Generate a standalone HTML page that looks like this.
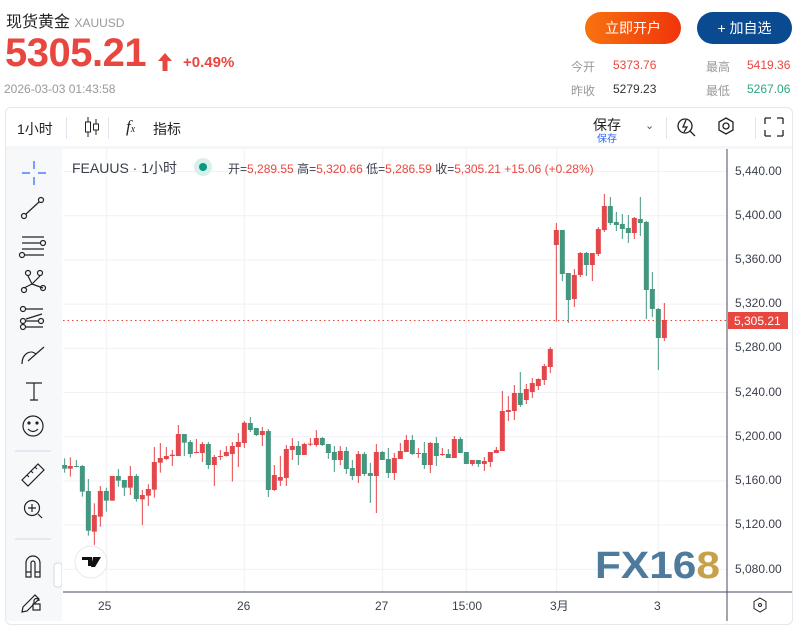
<!DOCTYPE html>
<html><head><meta charset="utf-8">
<style>
body{margin:0;width:800px;height:621px;background:#fff;font-family:"Liberation Sans","Noto Sans CJK SC",sans-serif;position:relative;overflow:hidden}
.a{position:absolute;white-space:nowrap}
</style></head><body>
<div class="a" style="left:6px;top:8px;font-size:16px;color:#222">现货黄金 <span style="font-size:12px;color:#999">XAUUSD</span></div>
<div class="a" style="left:5px;top:31px;font-size:40px;font-weight:bold;color:#e8473f;letter-spacing:-0.5px">5305.21</div>
<svg class="a" style="left:157px;top:53px" width="16" height="18"><path d="M8 0 L15 8 L10.5 8 L10.5 18 L5.5 18 L5.5 8 L1 8Z" fill="#e8473f"/></svg>
<div class="a" style="left:183px;top:54px;font-size:15px;font-weight:bold;color:#e8473f">+0.49%</div>
<div class="a" style="left:4px;top:82px;font-size:12px;color:#999">2026-03-03 01:43:58</div>
<div class="a" style="left:585px;top:12px;width:96px;height:32px;border-radius:16px;background:linear-gradient(90deg,#f7730f,#f0340c);color:#fff;font-size:14px;text-align:center;line-height:32px">立即开户</div>
<div class="a" style="left:697px;top:12px;width:95px;height:32px;border-radius:16px;background:#0a4a91;color:#fff;font-size:14px;text-align:center;line-height:32px">+ 加自选</div>
<div class="a" style="left:571px;top:58px;font-size:12px;color:#999">今开</div>
<div class="a" style="left:613px;top:58px;font-size:12px;color:#e8473f">5373.76</div>
<div class="a" style="left:706px;top:58px;font-size:12px;color:#999">最高</div>
<div class="a" style="left:747px;top:58px;font-size:12px;color:#e8473f">5419.36</div>
<div class="a" style="left:571px;top:82px;font-size:12px;color:#999">昨收</div>
<div class="a" style="left:613px;top:82px;font-size:12px;color:#333">5279.23</div>
<div class="a" style="left:706px;top:82px;font-size:12px;color:#999">最低</div>
<div class="a" style="left:747px;top:82px;font-size:12px;color:#2aa783">5267.06</div>

<div class="a" style="left:5px;top:107px;width:786px;height:516px;border:1px solid #e6e8ee;border-radius:6px"></div>
<div class="a" style="left:6px;top:146px;width:56px;height:475px;background:#f7f8fa"></div>
<div class="a" style="left:6px;top:146px;width:786px;height:3px;background:#f5f6f8"></div>
<div class="a" style="left:17px;top:119px;font-size:14px;color:#222">1小时</div>
<div class="a" style="left:66px;top:117px;width:1px;height:22px;background:#e0e3eb"></div>
<div class="a" style="left:108px;top:117px;width:1px;height:22px;background:#e0e3eb"></div>
<div class="a" style="left:153px;top:119px;font-size:14px;color:#222">指标</div>
<div class="a" style="left:126px;top:117px;font-size:17px;color:#222;font-style:italic;font-family:'Liberation Serif',serif">f<span style="font-size:10px">x</span></div>
<svg class="a" style="left:82px;top:116px" width="20" height="22" fill="none" stroke="#222"><path d="M6 1V21M14 3V19"/><rect x="3.5" y="6" width="5" height="10" fill="#fff"/><rect x="11.5" y="8" width="5" height="6" fill="#fff"/></svg>
<div class="a" style="left:593px;top:115px;font-size:14px;color:#222">保存</div>
<div class="a" style="left:597px;top:130px;font-size:10px;color:#2962ff">保存</div>
<div class="a" style="left:645px;top:119px;font-size:11px;color:#555">⌄</div>
<div class="a" style="left:666px;top:117px;width:1px;height:22px;background:#e0e3eb"></div>
<div class="a" style="left:755px;top:117px;width:1px;height:22px;background:#e0e3eb"></div>
<svg class="a" style="left:676px;top:116px" width="120" height="22" fill="none" stroke="#222" stroke-width="1.3">
<circle cx="9" cy="10" r="7"/><path d="M14 15L19 20M10 4L7 11H11L8 16"/>
<path d="M50 2L57 6V14L50 18L43 14V6Z"/><circle cx="50" cy="10" r="3"/>
<path d="M89 2H95M89 2V8M107 2H101M107 2V8M89 20H95M89 20V14M107 20H101M107 20V14"/></svg>

<svg class="a" style="left:0;top:149px" width="62" height="472" fill="none" stroke="#222" stroke-width="1.2">
<path d="M34 12V20M34 28V36M22 24H30M38 24H46" stroke="#2962ff"/>
<circle cx="24" cy="67" r="2.5"/><circle cx="41" cy="51" r="2.5"/><path d="M26 65L39 53"/>
<path d="M22 88H44M22 94H40M22 100H44M25 106H44"/><circle cx="43" cy="94" r="2.5"/><circle cx="22" cy="106" r="2.5"/>
<circle cx="28" cy="124" r="2.5"/><circle cx="40" cy="124" r="2.5"/><circle cx="24" cy="141" r="2.5"/><circle cx="43" cy="139" r="2.5"/><path d="M28 127L32 135L40 127M32 135L24 139M32 135L43 139"/>
<circle cx="23" cy="160" r="2.5"/><circle cx="23" cy="172" r="2.5"/><circle cx="41" cy="172" r="2.5"/><circle cx="23" cy="178" r="2.5"/><path d="M26 160H43M26 172H38M26 178H43M26 170L42 165" />
<path d="M22 215C22 205 30 200 36 205L28 212M36 205L44 198"/>
<path d="M26 234H42M34 234V251M30 251H38"/>
<circle cx="33" cy="277" r="10"/><circle cx="29" cy="274" r="1" fill="#222"/><circle cx="37" cy="274" r="1" fill="#222"/><path d="M28 280Q33 285 38 280"/>
<path d="M15 302H51" stroke="#dde"/>
<path d="M22 331L38 315L44 321L28 337Z M27 326L29 328M31 322L33 324M35 318L37 320"/>
<circle cx="32" cy="359" r="7.5"/><path d="M32 355V363M28 359H36M38 365L42 369"/>
<path d="M15 390H51" stroke="#dde"/>
<path d="M26 428V414A7 7 0 0 1 40 414V428H35V414A2 2 0 0 0 31 414V428Z M26 423H31M35 423H40"/>
<path d="M23 458L35 446L39 450L27 462L22 463Z"/><rect x="33" y="455" width="7" height="6"/><path d="M34 455V452A2.5 2.5 0 0 1 39 452"/>
<rect x="54" y="414" width="8" height="24" rx="3" fill="#fff" stroke="#dde"/>
</svg>

<svg class="a" style="left:0;top:0" width="800" height="621" id="ch">
<g stroke="#f0f1f4" stroke-width="1">
<path d="M63 171.5H727M63 215.7H727M63 259.9H727M63 304.1H727M63 348.3H727M63 392.5H727M63 436.7H727M63 480.9H727M63 525.1H727M63 569.3H727"/>
<path d="M106.7 149V592M244.3 149V592M382.7 149V592M466.3 149V592M556.7 149V592M658.3 149V592"/>
</g>
<path d="M727 149V621M63 592H792" stroke="#454b5c" stroke-width="1"/>
<g id="cd"></g>
<path d="M63 320.5H727" stroke="#e8473f" stroke-dasharray="1.5 3"/>
<g font-size="12" fill="#3a3f4d" font-family="Liberation Sans">
<text x="735" y="175">5,440.00</text><text x="735" y="219">5,400.00</text><text x="735" y="263">5,360.00</text><text x="735" y="307">5,320.00</text><text x="735" y="351">5,280.00</text><text x="735" y="396">5,240.00</text><text x="735" y="440">5,200.00</text><text x="735" y="484">5,160.00</text><text x="735" y="528">5,120.00</text><text x="735" y="573">5,080.00</text>
<text x="98" y="610">25</text><text x="237" y="610">26</text><text x="375" y="610">27</text><text x="452" y="610">15:00</text><text x="550" y="610" font-family="Liberation Sans,Noto Sans CJK SC">3月</text><text x="654" y="610">3</text>
</g>
<rect x="728" y="312" width="60" height="17" fill="#e8473f"/>
<text x="734" y="325" font-size="12" fill="#fff">5,305.21</text>
<path d="M760 598L766 601.5V608.5L760 612L754 608.5V601.5Z" fill="none" stroke="#222"/><circle cx="760" cy="605" r="1.5" fill="none" stroke="#222"/>
<circle cx="91" cy="562" r="16" fill="#fff" stroke="#e6e8ee"/>
<path d="M82 557H92V566H88V560H82Z M93 557H101L95 567H91Z" fill="#111"/>
<text x="595" y="578" font-size="38" font-weight="bold" fill="#4e7a9c" font-family="Liberation Sans" textLength="125" lengthAdjust="spacingAndGlyphs">FX16<tspan fill="#c9a04a">8</tspan></text>
</svg>
<div class="a" style="left:72px;top:158px;font-size:14px;color:#3a3f4d">FEAUUS · 1小时</div>
<div class="a" style="left:194px;top:158px;width:18px;height:18px;border-radius:9px;background:#d7f0ea"></div>
<div class="a" style="left:199px;top:163px;width:8px;height:8px;border-radius:4px;background:#089981"></div>
<div class="a" style="left:228px;top:160px;font-size:12px;color:#3a3f4d">开=<span style="color:#e8473f">5,289.55</span> 高=<span style="color:#e8473f">5,320.66</span> 低=<span style="color:#e8473f">5,286.59</span> 收=<span style="color:#e8473f">5,305.21 +15.06 (+0.28%)</span></div>
<script>
var R="#e3474c",G="#43977f";
var a=[[14,G,255,266,235,278],[31,R,258,266,232,290],[49,G,258,260,240,262],[67,G,258,335,255,350],[85,G,333,452,297,467],[103,R,405,455,370,495],[121,R,333,410,318,440],[139,G,333,362,323,395],[157,R,288,362,288,362],[175,G,288,302,267,320],[193,G,300,323,300,348],[211,R,288,323,258,345],[229,G,288,357,282,365],[247,R,345,358,330,435],[265,R,327,347,313,378],[283,R,246,329,201,353],[301,R,234,248,189,278],[319,R,228,237,201,240],[337,R,224,228,210,258],[355,R,162,228,135,228],[373,G,162,188,162,228],[391,G,186,222,180,233],[409,R,216,219,177,220],[427,R,192,219,186,246],[445,G,192,255,186,267],[463,R,231,255,225,318],[481,R,228,231,210,240],[499,R,216,228,198,230],[517,R,198,222,186,305],[535,R,186,201,159,261],[553,R,128,189,123,204],[571,G,129,150,111,156],[589,G,144,165,144,168],[607,R,153,165,141,198],[625,G,153,330,147,351],[643,R,285,330,255,333],[661,R,291,302,228,318],[679,R,207,294,195,318],[697,R,198,210,174,240],[715,G,198,225,183,255],[733,R,192,225,188,225],[751,R,191,194,174,198],[769,R,174,195,150,200],[787,G,174,195,171,198],[805,G,192,219,192,237],[823,G,216,240,198,276],[841,R,213,240,198,255],[859,G,213,267,201,282],[877,G,264,288,240,300],[895,R,222,288,213,309],[913,G,222,282,216,288],[931,G,279,288,249,369],[949,R,216,288,192,399],[967,G,216,240,213,240],[985,G,237,279,204,294],[1003,R,234,279,219,300],[1021,R,213,237,189,237],[1039,R,180,216,165,216],[1057,G,180,222,165,225],[1075,R,219,221,204,234],[1093,G,219,255,186,267],[1111,R,189,255,186,279],[1129,G,189,228,171,258],[1147,R,222,225,204,228],[1165,G,222,234,207,234],[1183,R,177,234,168,234],[1201,G,177,219,171,219],[1219,G,216,252,216,252],[1237,R,240,252,240,258],[1255,G,240,252,240,261],[1273,R,243,252,231,273],[1291,R,216,246,216,261],[1309,R,210,219,201,219],[1327,R,93,213,33,213],[1345,R,90,96,48,123],[1363,R,39,93,15,120]];
var b=[[199,R,150,195,129,425],[217,G,150,282,150,303],[235,G,279,360,279,429],[253,R,285,357,267,381],[271,R,219,285,216,291],[289,G,219,255,216,288],[307,R,219,255,219,303],[325,R,147,222,141,228],[343,R,78,150,42,156],[361,G,78,129,51,135],[379,G,126,135,96,153],[397,G,132,147,102,177],[415,G,144,159,105,189],[433,R,114,159,111,177],[451,G,117,129,51,168],[469,G,126,330,123,417],[487,G,327,387,276,411],[505,G,387,474,384,570],[523,R,420,474,369,483]];
var c=[];
a.forEach(function(d){c.push([60+d[0]/3,d[1],380+d[2]/3,380+d[3]/3,380+d[4]/3,380+d[5]/3])});
c.push([520.3,G,393,405,372,407]);c.push([526.3,R,389,400,384,404]);c.push([532.3,R,383,392,378,398]);c.push([538.3,R,379,386,378.3,390]);c.push([544.3,R,366,380,364,385]);c.push([550.3,R,349,367,347,373]);
b.forEach(function(d){c.push([490+d[0]/3,d[1],180+d[2]/3,180+d[3]/3,180+d[4]/3,180+d[5]/3])});
var s="";
c.forEach(function(d){var x=d[0];var h=Math.max(1,d[3]-d[2]);
s+='<line x1="'+x+'" x2="'+x+'" y1="'+d[4]+'" y2="'+d[5]+'" stroke="'+d[1]+'" stroke-width="1"/>';
s+='<rect x="'+(x-2.5)+'" y="'+d[2]+'" width="5" height="'+h+'" fill="'+d[1]+'"/>';});
document.getElementById("cd").innerHTML=s;
</script>
</body></html>
